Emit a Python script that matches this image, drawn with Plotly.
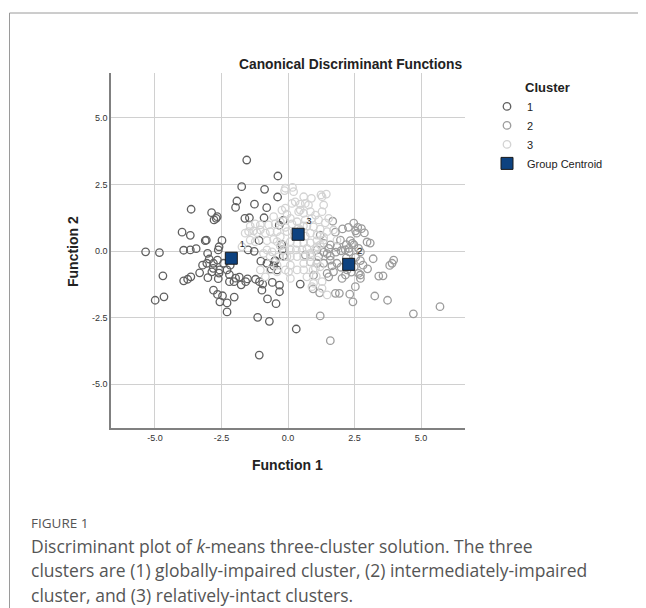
import plotly.graph_objects as go

# ---------------- data ----------------
c1_f1 = [-1.55,-0.38,-0.88,-3.64,-1.92,-1.97,-1.26,-0.80,-0.39,-2.87,-2.66,-2.78,-2.70,-1.62,-1.45,-0.90,-0.18,
         -3.98,-3.67,-3.11,-3.07,-2.48,-2.59,-2.62,-1.09,-0.24,-0.21,-0.18,-5.35,-4.83,-3.92,-3.67,-3.45,-3.02,-2.96,
         -1.50,-1.27,-1.02,-0.79,-0.50,-3.21,-3.05,-2.80,-2.65,-2.81,-2.86,-2.57,-2.29,-2.17,-2.42,-3.32,-3.01,-4.70,
         -3.92,-3.77,-3.65,-2.62,-2.59,-2.20,-1.97,-1.83,-2.03,-2.20,-1.76,-1.59,-1.52,-1.22,-1.07,-0.95,-0.59,-0.32,
         -0.41,0.46,-2.80,-2.65,-2.02,-0.98,-0.77,-0.45,-4.99,-4.66,-2.29,-2.29,-1.14,-0.70,0.31,-1.08,-0.33,-0.48,
         -0.54,-0.63,-0.32,-1.74,-2.56,-2.46]
c1_f2 = [3.42,2.82,2.32,1.57,1.88,1.64,1.76,1.63,2.03,1.44,1.29,1.17,1.23,1.23,1.25,1.25,1.15,
         0.71,0.59,0.39,0.41,0.40,0.16,0.04,0.40,0.25,0.04,-0.19,-0.03,-0.06,0.03,0.04,0.09,-0.09,-0.30,
         0.04,-0.01,-0.38,-0.46,-0.38,-0.53,-0.46,-0.46,-0.34,-0.65,-0.78,-0.71,-0.71,-0.53,-0.46,-0.82,-1.00,-0.93,
         -1.12,-1.06,-0.97,-1.04,-0.83,-0.89,-1.02,-0.98,-1.15,-1.15,-1.27,-1.15,-1.05,-1.06,-1.15,-1.24,-1.18,-1.28,
         -0.71,-1.24,-1.47,-1.63,-1.73,-1.47,-1.80,-1.98,-1.85,-1.72,-1.95,-2.29,-2.49,-2.64,-2.93,-3.91,0.97,-0.36,
         -0.56,-0.68,-1.53,2.42,-1.91,-1.68]

c2_f1 = [1.68,2.05,2.27,2.47,2.62,2.76,2.54,2.58,2.97,2.34,2.42,2.19,2.29,1.34,1.47,1.59,1.80,1.99,2.15,2.54,
         2.72,2.82,2.99,3.20,3.97,3.91,3.82,3.41,3.57,1.65,1.84,1.99,1.71,1.53,2.03,2.65,2.72,0.96,0.94,1.19,
         1.78,1.93,2.32,2.53,2.44,3.26,3.74,4.71,5.71,1.21,1.59,2.65,2.72,2.30,2.72,2.48,1.09,1.53,1.34,1.59,
         1.84,1.15,1.34,1.09,1.59,2.22,1.47,2.19,2.38,2.49,2.38,2.16,0.84,0.65,1.97,1.78,1.21,2.87,3.09]
c2_f2 = [1.12,0.83,0.89,1.05,0.89,0.84,0.76,0.67,0.34,0.39,0.29,0.24,0.10,-0.04,-0.10,-0.19,-0.04,0.01,0.04,-0.24,
         -0.36,-0.53,-0.67,-0.29,-0.34,-0.46,-0.54,-0.94,-0.93,-0.56,-0.46,-0.61,-0.78,-0.97,-1.03,-0.84,-1.03,-0.91,-1.42,-1.57,
         -1.59,-1.59,-1.62,-1.34,-1.91,-1.69,-1.85,-2.36,-2.09,-2.44,-3.37,0.10,-0.03,-0.03,-0.90,0.23,0.04,0.10,0.29,0.23,
         0.16,-0.21,-0.46,-0.46,-0.34,-0.71,-0.84,-0.26,-0.41,-0.60,-0.79,-0.90,-0.41,-0.15,0.41,0.71,0.60,0.68,0.30]

c3_f1 = [0.17,-0.13,0.27,0.46,0.65,0.88,0.77,1.28,1.34,0.40,0.59,0.84,1.03,1.28,-0.23,-0.04,0.09,0.65,0.90,1.15,
         1.40,-0.48,-0.29,-0.10,0.15,0.71,0.96,1.21,1.47,-0.67,-0.41,0.84,1.09,1.34,-1.48,-1.29,-1.04,-0.85,-1.42,-1.23,
         -0.79,-0.54,0.09,0.34,0.59,0.84,1.09,-0.79,-0.60,0.09,0.31,0.53,0.71,0.09,0.34,0.59,0.84,0.59,0.84,0.09,
         0.34,1.03,-1.61,-1.73,-1.04,-0.67,-0.41,0.02,-0.85,0.09,0.90,1.28,-0.17,-0.29,-1.04,-1.23,-0.54,-1.42,-1.17,-0.73,
         -0.10,0.15,0.21,0.59,0.46,-0.04,-0.41,-0.17,-0.92,-0.67,-0.35,-0.04,-0.41,-0.10,0.34,1.24,1.44,1.53,1.71,1.34,
         1.84,1.09,0.84,1.09,1.21,0.94,0.71,0.59,0.96,1.28,1.47,1.06,-0.10,0.46,0.65,0.24,0.58,-0.29,0.39,1.03,1.21]
c3_f2 = [2.39,2.27,1.85,1.76,1.79,1.98,1.73,2.04,1.73,1.48,1.42,1.48,1.35,1.48,1.54,1.39,1.23,1.17,1.23,1.17,
         1.06,1.02,1.10,0.89,1.02,0.94,0.91,0.82,0.73,0.73,0.73,0.67,0.60,0.52,0.73,0.76,0.79,0.67,0.41,0.35,
         0.39,0.44,0.35,0.29,0.31,0.31,0.39,0.04,-0.03,0.04,0.04,0.04,0.10,-0.21,-0.21,-0.21,-0.21,-0.46,-0.40,-0.53,
         -0.71,-0.65,0.67,0.16,-0.71,-0.71,-0.78,-0.78,-0.97,-1.03,-1.34,-1.40,0.23,0.54,0.98,1.02,1.29,0.94,0.69,0.98,
         1.61,1.79,2.23,2.04,1.54,0.73,0.35,0.04,-0.09,-0.21,-0.21,-0.21,-0.53,-0.71,1.10,2.11,2.14,1.23,0.79,0.41,
         0.41,0.16,-0.09,-0.34,-0.59,-0.71,-0.97,-0.71,-1.21,-1.15,-1.65,-0.94,2.36,0.79,0.56,0.56,0.94,0.19,0.86,0.04,0.23]

centroid_labels = ["1", "2", "3"]
centroid_f1 = [-2.13, 2.28, 0.38]
centroid_f2 = [-0.27, -0.50, 0.63]

tick_vals = [-5.0, -2.5, 0.0, 2.5, 5.0]
tick_text = ["-5.0", "-2.5", "0.0", "2.5", "5.0"]

# ---------------- figure ----------------
# the page body has an 8px margin, so the figure is 8px smaller on each axis
OFF = 8
W, H = 646 - OFF, 608 - OFF
L, R, T, B = 111 - OFF, 181, 73 - OFF, 180
pw, ph = W - L - R, H - T - B

def px(x):  # screen x of the reference -> paper x
    return (x - OFF - L) / pw

def py(y):  # screen y of the reference -> paper y
    return (H - B - (y - OFF)) / ph

FONT = "Arial, Liberation Sans, sans-serif"
fig = go.Figure()

def circ(name, xs, ys, color):
    fig.add_trace(go.Scatter(
        x=xs, y=ys, mode="markers", name=name,
        marker=dict(symbol="circle-open", size=7.5, color=color, line=dict(width=1.3, color=color)),
        hoverinfo="skip"))

circ("1", c1_f1, c1_f2, "#606060")
circ("2", c2_f1, c2_f2, "#9c9c9c")
circ("3", c3_f1, c3_f2, "#d3d3d3")

fig.add_trace(go.Scatter(
    x=centroid_f1, y=centroid_f2, mode="markers+text", name="Group Centroid",
    text=centroid_labels, textposition="top right",
    textfont=dict(family=FONT, size=9, color="#222"),
    marker=dict(symbol="square", size=12, color="#0d4280", line=dict(width=1, color="#1a1a1a")),
    hoverinfo="skip"))

axis_common = dict(
    tickvals=tick_vals, ticktext=tick_text, showgrid=True, gridcolor="#d0d0d0", gridwidth=1.3,
    zeroline=False, showline=True, linecolor="#808080", linewidth=1.5, ticks="",
    tickfont=dict(family=FONT, size=9, color="#333"), fixedrange=True)

fig.update_layout(
    width=W, height=H, margin=dict(l=L, r=R, t=T, b=B, autoexpand=False),
    paper_bgcolor="white", plot_bgcolor="white",
    xaxis=dict(range=[-6.65, 6.65], **axis_common),
    yaxis=dict(range=[-6.65, 6.69], **axis_common),
    showlegend=True,
    legend=dict(
        x=px(487), y=py(75), xanchor="left", yanchor="top",
        title=dict(text="<b>Cluster</b>", side="top center", font=dict(family=FONT, size=13, color="#222")),
        font=dict(family=FONT, size=11, color="#222"), itemwidth=30, tracegroupgap=0,
        bgcolor="rgba(0,0,0,0)"),
)

ann = [
    dict(text="<b>Canonical Discriminant Functions</b>", x=px(350), y=py(64), size=13.8, color="#222"),
    dict(text="<b>Function 1</b>", x=px(287), y=py(465), size=14, color="#222"),
    dict(text="<b>Function 2</b>", x=px(73), y=py(252), size=14, color="#222", angle=-90),
]
for a in ann:
    fig.add_annotation(text=a["text"], x=a["x"], y=a["y"], xref="paper", yref="paper",
                       xanchor="center", yanchor="middle", showarrow=False,
                       textangle=a.get("angle", 0),
                       font=dict(family=FONT, size=a["size"], color=a["color"]))

CAP = "Open Sans, Lato, sans-serif"
caption = [
    ("FIGURE 1", 523, 13.5),
    ("Discriminant plot of <i>k</i>-means three-cluster solution. The three", 546, 17.5),
    ("clusters are (1) globally-impaired cluster, (2) intermediately-impaired", 570, 17.5),
    ("cluster, and (3) relatively-intact clusters.", 595, 17.5),
]
for txt, yy, sz in caption:
    fig.add_annotation(text=txt, x=px(29), y=py(yy), xref="paper", yref="paper",
                       xanchor="left", yanchor="middle", showarrow=False,
                       font=dict(family=CAP, size=sz, color="#555"))

# card frame
fig.add_shape(type="rect", xref="paper", yref="paper",
              x0=px(9.5), x1=px(720), y0=py(13), y1=py(720),
              line=dict(color="#9a9a9a", width=1), fillcolor="rgba(0,0,0,0)", layer="below")

fig.write_html("out.html")
